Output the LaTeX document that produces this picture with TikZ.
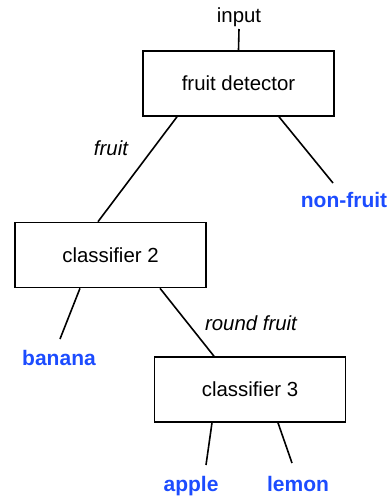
\documentclass[tikz,border=0pt]{standalone}
\usepackage{fontspec}
\setmainfont{Liberation Sans}
\definecolor{leafblue}{RGB}{28,76,255}
\begin{document}
\begin{tikzpicture}[x=1pt,y=-1pt,
  box/.style={draw,line width=1.6pt,minimum width=191pt,minimum height=65pt,inner sep=0pt,font=\fontsize{20.4}{24}\selectfont},
  leaf/.style={inner sep=0pt,text=leafblue,font=\fontsize{21}{24}\selectfont\bfseries},
  edgelabel/.style={inner sep=0pt,font=\fontsize{20.4}{24}\selectfont\itshape},
  plain/.style={inner sep=0pt,font=\fontsize{20.4}{24}\selectfont},
  conn/.style={line width=1.6pt}]
\useasboundingbox (0,0) rectangle (390,496);
\node[plain,anchor=base] (input) at (239,22) {input};
\node[box] (fd) at (238.5,83.5) {fruit detector};
\node[box] (c2) at (110.5,255) {classifier 2};
\node[box] (c3) at (250,389.5) {classifier 3};
\node[leaf,anchor=base] (nonfruit) at (344,207) {non-fruit};
\node[leaf,anchor=base] (banana) at (59,365) {banana};
\node[leaf,anchor=base] (apple) at (191,491) {apple};
\node[leaf,anchor=base] (lemon) at (298,491) {lemon};
\node[edgelabel,anchor=base] (lfruit) at (111,155) {fruit};
\node[edgelabel,anchor=base] (lround) at (251,330) {round fruit};
\draw[conn] ([yshift=-7pt]input.base) -- (fd.north);
\draw[conn] ([xshift=-61.5pt]fd.south) -- ([xshift=-12.5pt]c2.north);
\draw[conn] ([xshift=40.5pt]fd.south) -- ([shift={(-11,-24)}]nonfruit.base);
\draw[conn] ([xshift=-30.5pt]c2.south) -- ([shift={(1,-26)}]banana.base);
\draw[conn] ([xshift=49.5pt]c2.south) -- ([xshift=-36pt]c3.north);
\draw[conn] ([xshift=-38pt]c3.south) -- ([shift={(15,-26)}]apple.base);
\draw[conn] ([xshift=28pt]c3.south) -- ([shift={(-6,-28)}]lemon.base);
\end{tikzpicture}
\end{document}
